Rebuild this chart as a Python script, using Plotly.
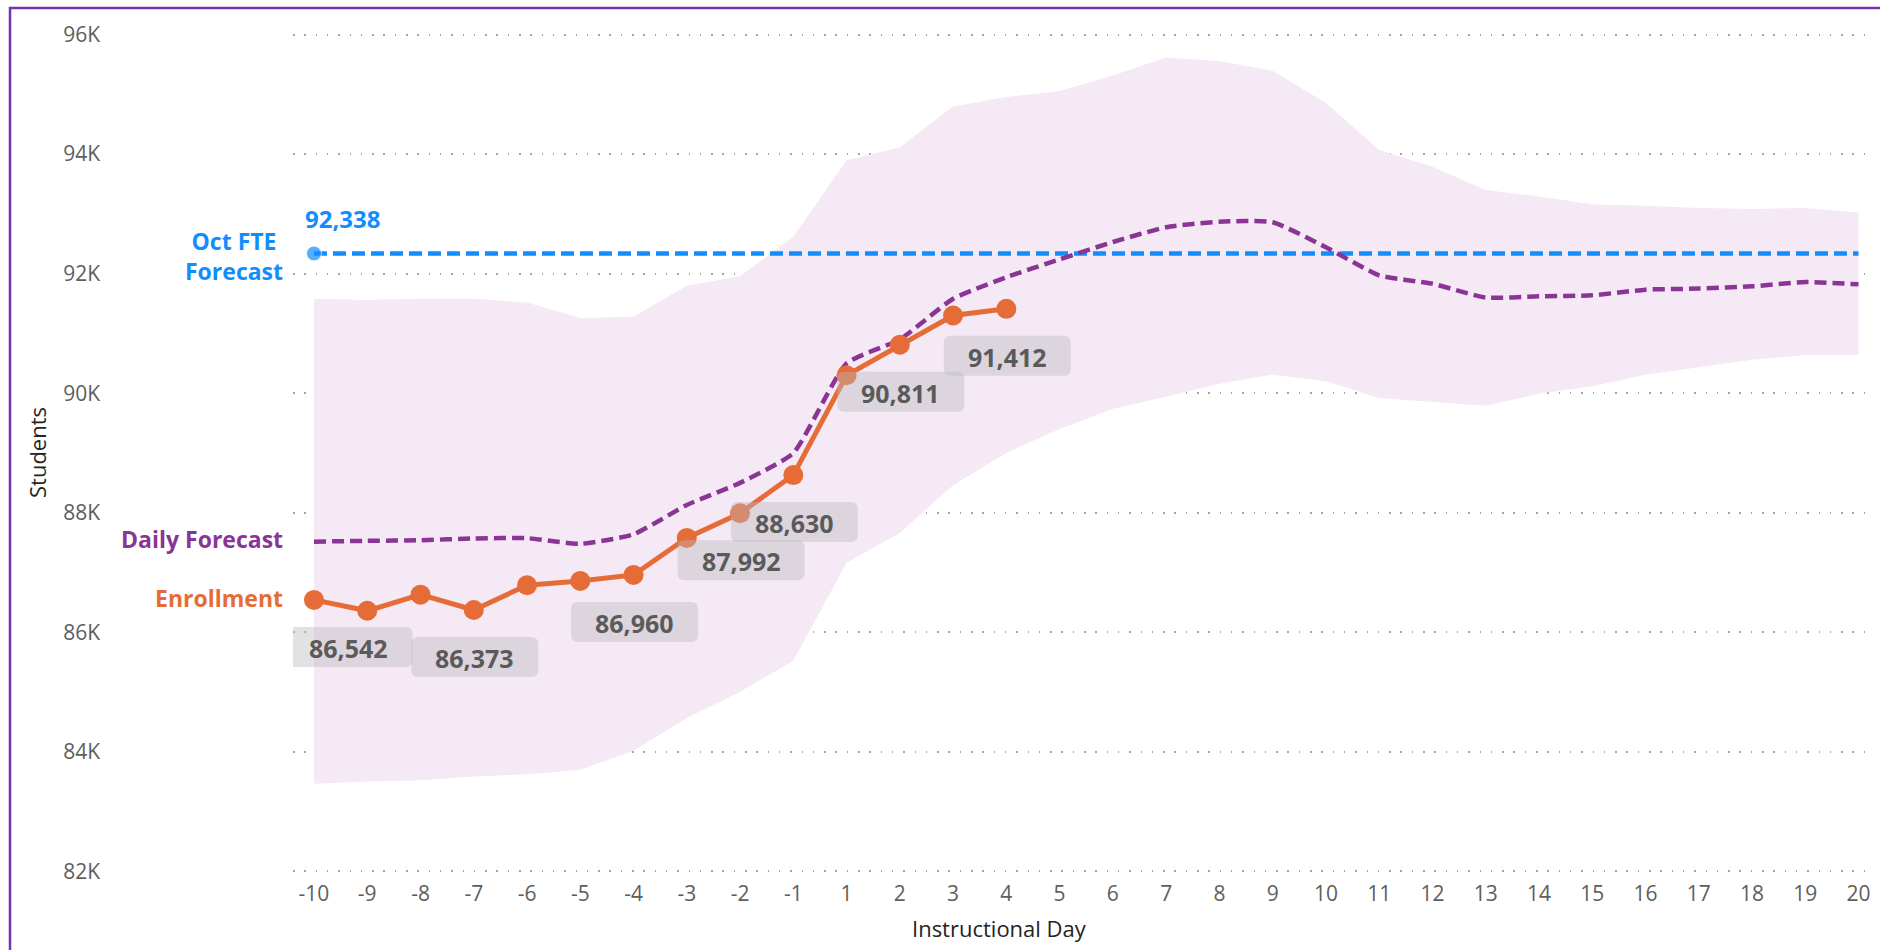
import plotly.graph_objects as go

# ---------------- data ----------------
day_labels = ["-10", "-9", "-8", "-7", "-6", "-5", "-4", "-3", "-2", "-1",
              "1", "2", "3", "4", "5", "6", "7", "8", "9", "10",
              "11", "12", "13", "14", "15", "16", "17", "18", "19", "20"]

enrollment = [86542, 86360, 86630, 86373, 86788, 86860, 86960, 87580,
              87992, 88630, 90300, 90811, 91300, 91412]

daily_forecast = [87517, 87530, 87540, 87570, 87575, 87480, 87640, 88130,
                  88500, 89000, 90500, 90900, 91580, 91940, 92240, 92530,
                  92777, 92870, 92860, 92443, 91972, 91833, 91600, 91622,
                  91638, 91733, 91750, 91788, 91860, 91822]

band_upper = [91579, 91559, 91579, 91579, 91519, 91260, 91280, 91799,
              91959, 92618, 93897, 94117, 94796, 94956, 95056, 95316,
              95616, 95556, 95396, 94856, 94070, 93790, 93400, 93290,
              93160, 93138, 93100, 93080, 93098, 93020]

band_lower = [83466, 83506, 83526, 83586, 83626, 83700, 84020, 84565,
              85005, 85524, 87163, 87663, 88462, 89001, 89401, 89741,
              89941, 90160, 90310, 90200, 89920, 89860, 89790, 89990,
              90115, 90310, 90440, 90558, 90640, 90640]

oct_fte_forecast = 92338

labelled_days = ["-10", "-7", "-4", "-2", "-1", "2", "4"]

y_ticks = [82000, 84000, 86000, 88000, 90000, 92000, 94000, 96000]
y_tick_text = ["82K", "84K", "86K", "88K", "90K", "92K", "94K", "96K"]

# ---------------- styles ----------------
W, H = 1880, 950
ML, MR, MT, MB = 293, 5, 31, 75
PW, PH = W - ML - MR, H - MT - MB

ORANGE = "#E66C37"
PURPLE = "#8A3596"
BLUE = "#118DFF"
BAND = "#F4E9F4"
TICK = "#605E5C"
TXT = "#252423"
FONT = "Open Sans"

idx = list(range(len(day_labels)))
idx_enr = idx[:len(enrollment)]

fig = go.Figure()

# forecast band
fig.add_trace(go.Scatter(x=idx, y=band_lower, mode="lines", line=dict(width=0),
                         hoverinfo="skip", showlegend=False))
fig.add_trace(go.Scatter(x=idx, y=band_upper, mode="lines", line=dict(width=0),
                         fill="tonexty", fillcolor=BAND, hoverinfo="skip",
                         showlegend=False))

# Oct FTE forecast
fig.add_trace(go.Scatter(x=[idx[0], idx[-1]], y=[oct_fte_forecast] * 2,
                         mode="lines+markers",
                         line=dict(color=BLUE, width=4.5, dash="13px,6px"),
                         marker=dict(size=[15, 0], color=BLUE),
                         showlegend=False, cliponaxis=False))

# Daily forecast
fig.add_trace(go.Scatter(x=idx, y=daily_forecast, mode="lines",
                         line=dict(color=PURPLE, width=4.5, dash="12px,6px",
                                   shape="spline", smoothing=0.5),
                         showlegend=False))

# Enrollment
fig.add_trace(go.Scatter(x=idx_enr, y=enrollment, mode="lines+markers",
                         line=dict(color=ORANGE, width=5),
                         marker=dict(size=20, color=ORANGE),
                         showlegend=False, cliponaxis=False))


def rrect(cx, cy, w, h, r):
    l, rt, b, t = cx - w / 2, cx + w / 2, cy - h / 2, cy + h / 2
    return (f"M{l + r},{b} L{rt - r},{b} Q{rt},{b} {rt},{b + r} "
            f"L{rt},{t - r} Q{rt},{t} {rt - r},{t} L{l + r},{t} "
            f"Q{l},{t} {l},{t - r} L{l},{b + r} Q{l},{b} {l + r},{b} Z")


shapes = []
annotations = []
for d in labelled_days:
    i = day_labels.index(d)
    v = enrollment[i]
    xs = 35 if i == 0 else 1
    shapes.append(dict(type="path", xref="x", yref="y", xsizemode="pixel",
                       ysizemode="pixel", xanchor=i, yanchor=v,
                       path=rrect(xs, -47, 127, 40, 7),
                       fillcolor="rgba(185,185,190,0.42)", line=dict(width=0),
                       layer="above"))
    annotations.append(dict(x=i, y=v, xref="x", yref="y", text=f"{v:,}",
                            showarrow=False, xshift=xs, yshift=-48,
                            font=dict(family=FONT, size=25, color="#5A5A5A",
                                      weight=700)))

# series labels
annotations.append(dict(x=0, y=daily_forecast[0], xref="x", yref="y",
                        text="Daily Forecast", showarrow=False, xanchor="right",
                        xshift=-29, yshift=3,
                        font=dict(family=FONT, size=23, color=PURPLE, weight=700)))
annotations.append(dict(x=0, y=enrollment[0], xref="x", yref="y",
                        text="Enrollment", showarrow=False, xanchor="right",
                        xshift=-29, yshift=2,
                        font=dict(family=FONT, size=23, color=ORANGE, weight=700)))
annotations.append(dict(x=0, y=oct_fte_forecast, xref="x", yref="y",
                        text="Oct FTE<br>Forecast", showarrow=False,
                        xanchor="right", align="center", xshift=-29, yshift=-3,
                        font=dict(family=FONT, size=23, color=BLUE, weight=700)))
annotations.append(dict(x=0, y=oct_fte_forecast, xref="x", yref="y",
                        text=f"{oct_fte_forecast:,}", showarrow=False,
                        xshift=29, yshift=35,
                        font=dict(family=FONT, size=24, color=BLUE, weight=700)))

# axis titles
annotations.append(dict(x=(999 - ML) / PW, y=(MT + PH - 928) / PH,
                        xref="paper", yref="paper", text="Instructional Day",
                        showarrow=False, xanchor="center", yanchor="middle",
                        font=dict(family=FONT, size=22, color=TXT)))
annotations.append(dict(x=(37 - ML) / PW, y=0.5, xref="paper", yref="paper",
                        text="Students", textangle=-90, showarrow=False,
                        xanchor="center", yanchor="middle",
                        font=dict(family=FONT, size=22, color=TXT)))

# outer purple frame
shapes.append(dict(type="rect", xref="paper", yref="paper",
                   x0=(10 - ML) / PW, x1=(W + 10 - ML) / PW,
                   y0=(MT + PH - (H + 10)) / PH, y1=(MT + PH - 8) / PH,
                   line=dict(color="#7435A8", width=2.5), layer="below"))

fig.update_layout(
    width=W, height=H,
    margin=dict(l=ML, r=MR, t=MT, b=MB),
    paper_bgcolor="white", plot_bgcolor="white",
    showlegend=False,
    shapes=shapes, annotations=annotations,
    font=dict(family=FONT),
    xaxis=dict(range=[-0.394, len(day_labels) - 1 + 0.31],
               tickmode="array", tickvals=idx, ticktext=day_labels,
               showgrid=False, zeroline=False, showline=False, ticks="",
               automargin=False, ticklabelstandoff=4,
               tickfont=dict(family=FONT, size=21, color=TICK)),
    yaxis=dict(range=[y_ticks[0] - 60, y_ticks[-1] + 60], tickmode="array",
               tickvals=y_ticks, ticktext=y_tick_text,
               showgrid=True, gridcolor="#A5A5A5", gridwidth=1.5,
               griddash="1.5px,9.8px", zeroline=False, showline=False,
               ticks="", ticklabelstandoff=192, automargin=False,
               tickfont=dict(family=FONT, size=21, color=TICK)),
)

fig.write_html("out.html", config={"displayModeBar": False},
               post_script="document.body.style.margin='0';"
                           "document.body.style.overflow='hidden';")
